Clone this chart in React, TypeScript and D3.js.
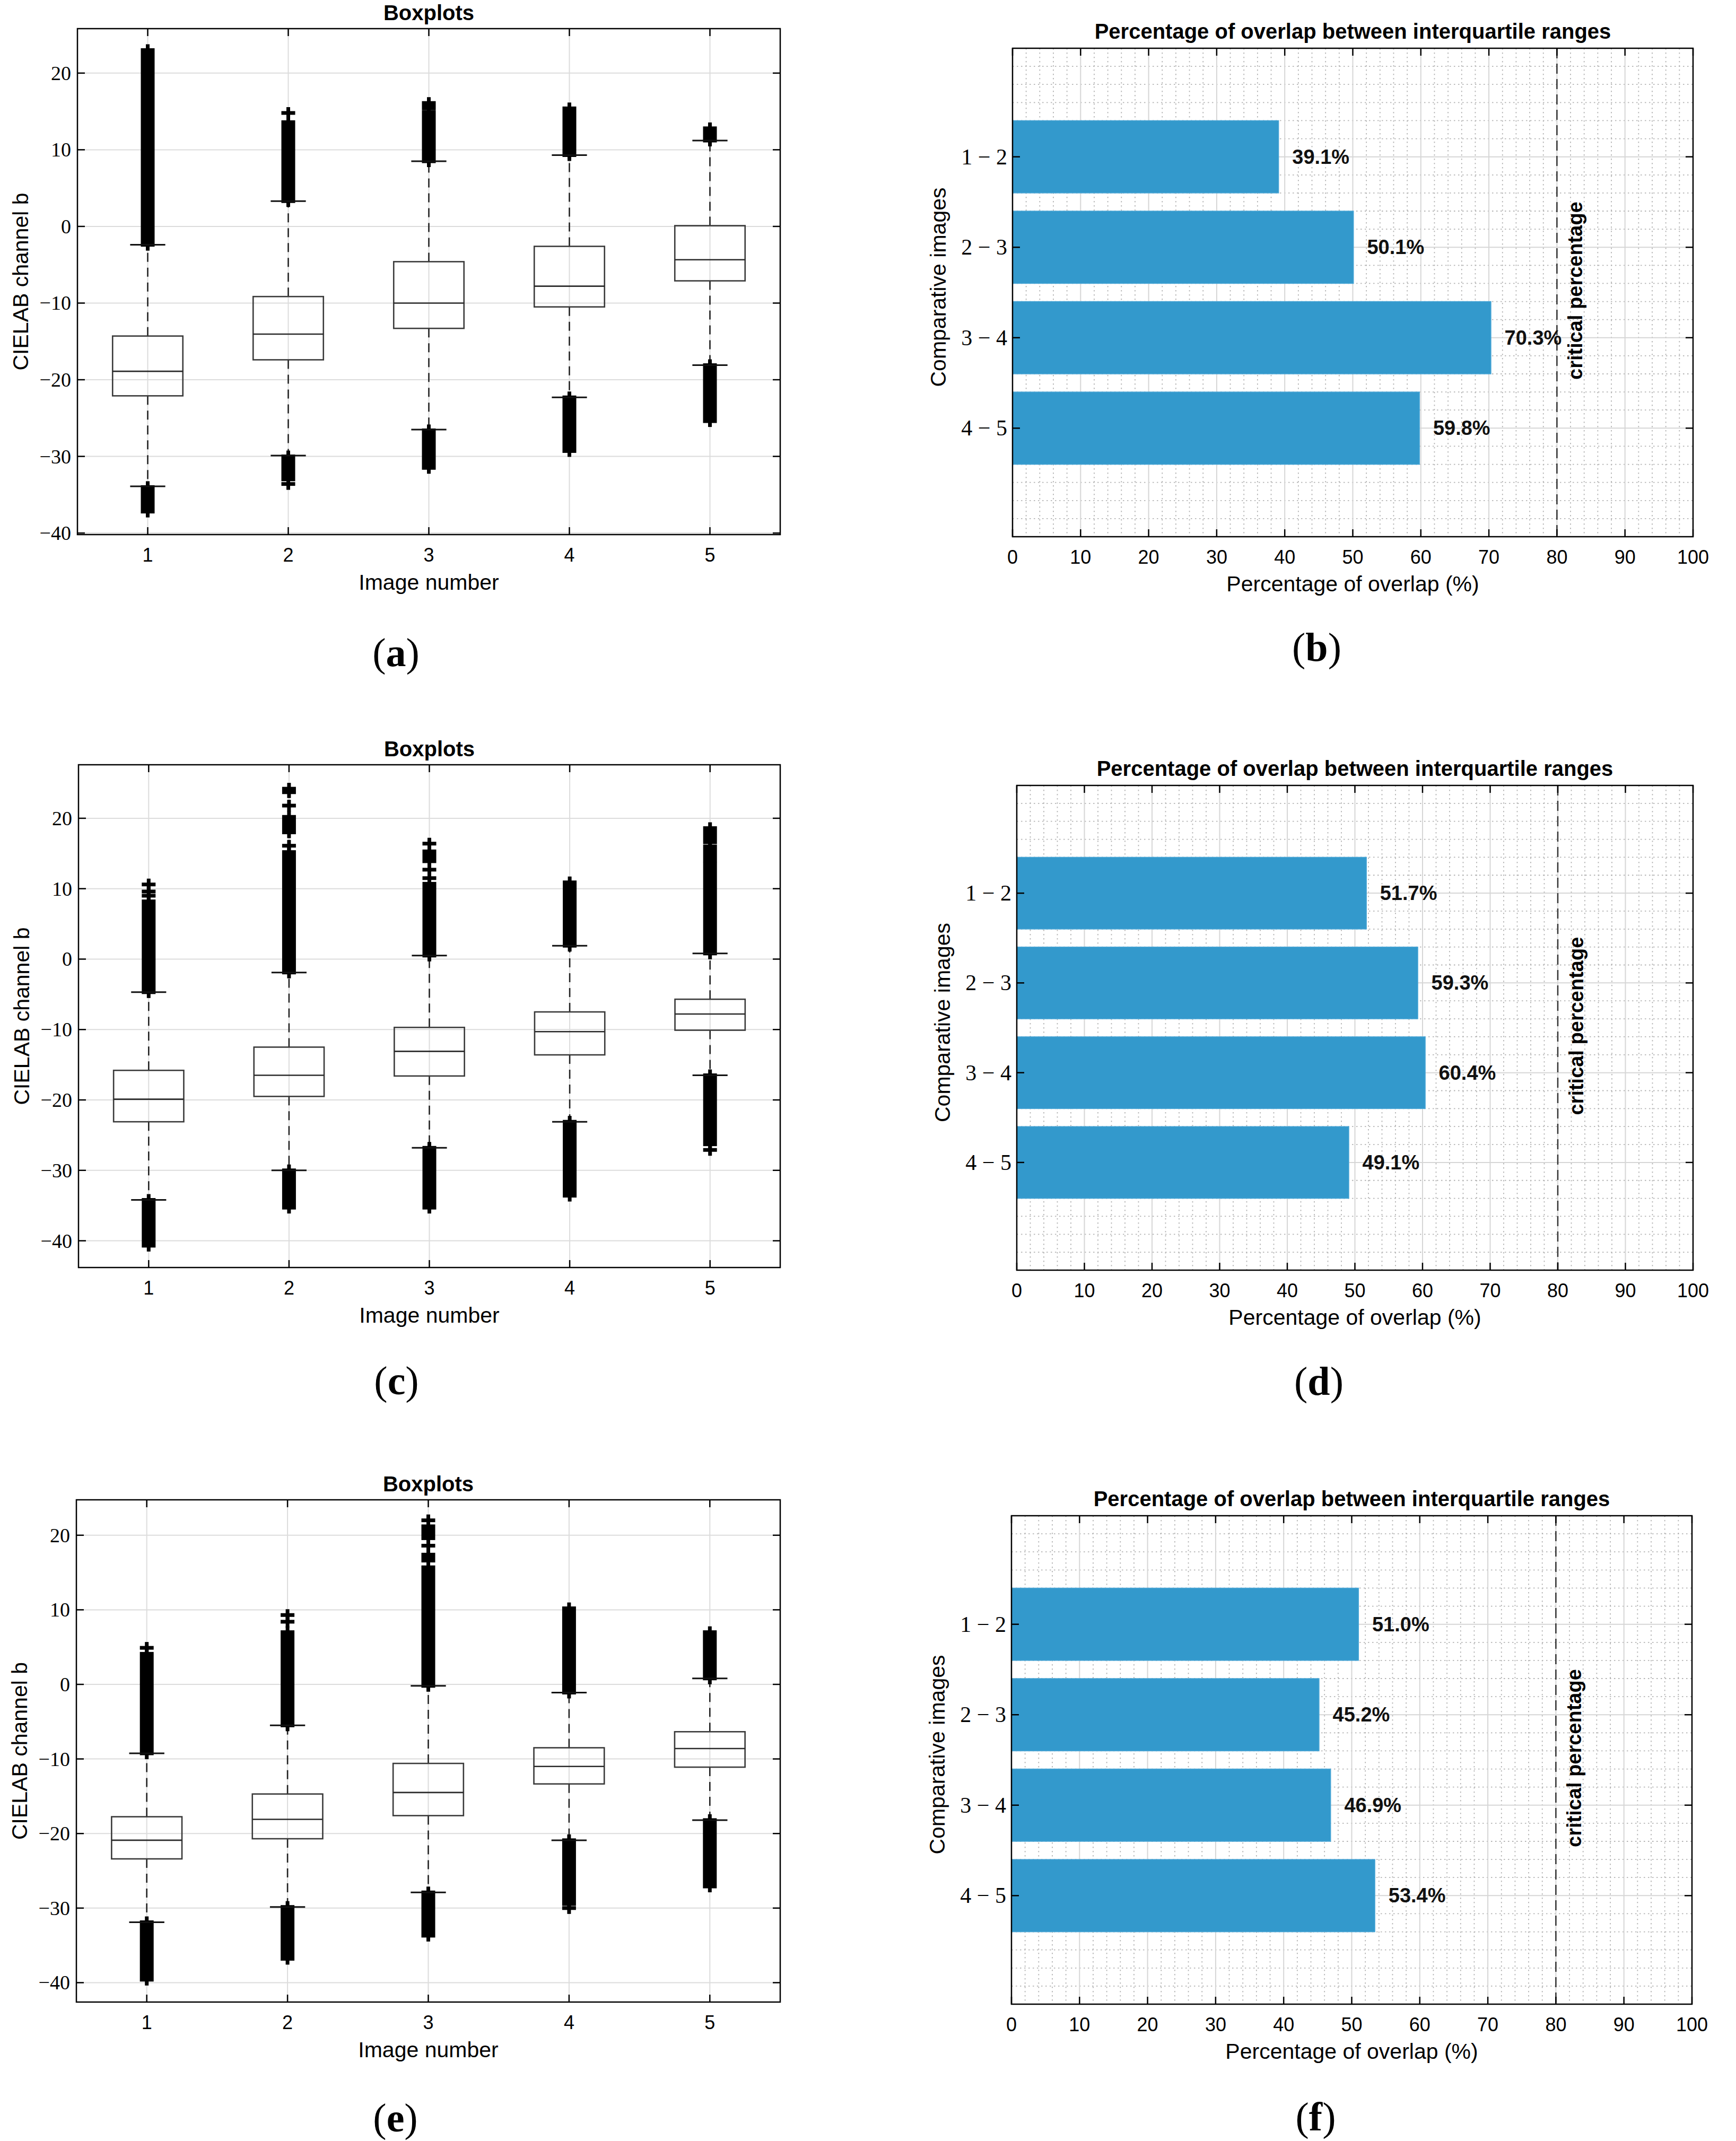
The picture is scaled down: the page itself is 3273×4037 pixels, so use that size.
import React from 'react';
import * as d3 from 'd3';

const W = 3273;
const H = 4037;
const sans = '"Liberation Sans", Arial, Helvetica, sans-serif';
const serif = '"Liberation Serif", "Times New Roman", serif';

type Run = [number, number];

const imageNumbers = [1, 2, 3, 4, 5];
const boxYTicks = [-40, -30, -20, -10, 0, 10, 20];

// panel (a)
const aWhiskerLow = [-33.9, -29.9, -26.5, -22.3, -18.1];
const aQ1 = [-22.1, -17.4, -13.3, -10.5, -7.1];
const aMedian = [-18.9, -14.05, -10.0, -7.8, -4.35];
const aQ3 = [-14.3, -9.15, -4.6, -2.6, 0.1];
const aWhiskerHigh = [-2.4, 3.3, 8.5, 9.3, 11.2];
const aOutliers: Run[][] = [
  [[-2.4, 23.0], [-34.0, -37.2]],
  [[3.3, 13.6], [14.8, 14.8], [-30.0, -33.0], [-33.6, -33.6]],
  [[8.5, 14.9], [15.4, 16.1], [-26.6, -31.5]],
  [[9.3, 15.4], [-22.3, -29.3]],
  [[11.2, 12.8], [-18.1, -25.4]],
];

// panel (c)
const cWhiskerLow = [-34.2, -30.0, -26.8, -23.1, -16.5];
const cQ1 = [-23.1, -19.5, -16.6, -13.6, -10.1];
const cMedian = [-19.9, -16.5, -13.1, -10.3, -7.8];
const cQ3 = [-15.8, -12.5, -9.7, -7.5, -5.7];
const cWhiskerHigh = [-4.7, -1.9, 0.5, 1.9, 0.8];
const cOutliers: Run[][] = [
  [[-4.7, 8.2], [9.0, 9.0], [9.6, 9.6], [10.6, 10.6], [-34.2, -40.7]],
  [[-1.9, 15.2], [16.1, 16.1], [18.0, 20.2], [21.8, 21.8], [23.7, 24.2], [-30.0, -35.3]],
  [[0.5, 10.7], [11.5, 11.5], [12.7, 12.7], [13.9, 15.3], [16.4, 16.4], [-26.8, -35.3]],
  [[1.9, 10.9], [-23.1, -33.6]],
  [[0.8, 13.5], [14.0, 16.0], [16.6, 18.6], [-16.5, -26.3], [-27.1, -27.1]],
];

// panel (e)
const eWhiskerLow = [-31.9, -29.85, -27.9, -20.9, -18.2];
const eQ1 = [-23.4, -20.7, -17.6, -13.35, -11.1];
const eMedian = [-20.9, -18.1, -14.5, -11.0, -8.6];
const eQ3 = [-17.75, -14.7, -10.6, -8.5, -6.35];
const eWhiskerHigh = [-9.25, -5.5, -0.2, -1.1, 0.8];
const eOutliers: Run[][] = [
  [[-9.25, 4.1], [4.9, 4.9], [-31.9, -39.6]],
  [[-5.5, 7.0], [8.4, 8.4], [9.3, 9.3], [-29.85, -36.8]],
  [[-0.2, 15.7], [16.6, 17.4], [18.6, 18.6], [19.6, 21.2], [22.0, 22.0], [-27.9, -33.7]],
  [[-1.1, 10.2], [-20.9, -29.45], [-30.0, -30.0]],
  [[0.8, 7.0], [-18.2, -27.1]],
];

// bar panels
const comparisons = ['1 − 2', '2 − 3', '3 − 4', '4 − 5'];
const overlapB = [39.1, 50.1, 70.3, 59.8];
const overlapD = [51.7, 59.3, 60.4, 49.1];
const overlapF = [51.0, 45.2, 46.9, 53.4];
const criticalPercentage = 80;
const overlapTicks = [0, 10, 20, 30, 40, 50, 60, 70, 80, 90, 100];

type Frame = { left: number; right: number; top: number; bottom: number };

const fmtMinus = (v: number) => (v < 0 ? `−${-v}` : `${v}`);

// panel letter like "(a)": regular parens, bold letter
function Tag({ x, y, letter }: { x: number; y: number; letter: string }) {
  return (
    <text x={x} y={y} fontFamily={serif} fontSize={76} textAnchor="middle" dominantBaseline="central">
      (<tspan fontWeight="bold">{letter}</tspan>)
    </text>
  );
}

function Outliers({ cx, y, runs }: { cx: number; y: d3.ScaleLinear<number, number>; runs: Run[] }) {
  const hw = 13, t = 7, tip = 11;
  return (
    <g fill="#000">
      {runs.map((r, i) => {
        const a = y(Math.max(r[0], r[1]));
        const b = y(Math.min(r[0], r[1]));
        return (
          <g key={i}>
            <rect x={cx - hw} y={a - t / 2} width={hw * 2} height={b - a + t} />
            <rect x={cx - t / 2} y={a - tip} width={t} height={b - a + tip * 2} />
          </g>
        );
      })}
    </g>
  );
}

function BoxplotPanel({ frame, domain, whiskerLow, q1, median, q3, whiskerHigh, outliers, tag, tagY }: any) {
  const { left, right, top, bottom } = frame as Frame;
  const x = d3.scaleLinear().domain([0.5, 5.5]).range([left, right]);
  const y = d3.scaleLinear().domain(domain).range([bottom, top]);
  const tk = 14;
  const bw = x(0.25) - x(0);
  const cw = x(0.125) - x(0);
  const cx = (left + right) / 2;
  const cy = (top + bottom) / 2;
  return (
    <g>
      {/* grid */}
      <g stroke="#dcdcdc" strokeWidth={2}>
        {boxYTicks.map(v => <line key={'gy' + v} x1={left} x2={right} y1={y(v)} y2={y(v)} />)}
        {imageNumbers.map(v => <line key={'gx' + v} x1={x(v)} x2={x(v)} y1={top} y2={bottom} />)}
      </g>
      {imageNumbers.map((n, i) => (
        <g key={n}>
          <g stroke="#222" strokeWidth={2.6} strokeDasharray="17,11">
            <line x1={x(n)} x2={x(n)} y1={y(q3[i])} y2={y(whiskerHigh[i])} />
            <line x1={x(n)} x2={x(n)} y1={y(q1[i])} y2={y(whiskerLow[i])} />
          </g>
          <Outliers cx={x(n)} y={y} runs={outliers[i]} />
          <rect x={x(n) - bw} y={y(q3[i])} width={bw * 2} height={y(q1[i]) - y(q3[i])}
            fill="none" stroke="#3a3a3a" strokeWidth={2.6} />
          <line x1={x(n) - bw} x2={x(n) + bw} y1={y(median[i])} y2={y(median[i])} stroke="#2a2a2a" strokeWidth={2.6} />
          <g stroke="#111" strokeWidth={3}>
            <line x1={x(n) - cw} x2={x(n) + cw} y1={y(whiskerHigh[i])} y2={y(whiskerHigh[i])} />
            <line x1={x(n) - cw} x2={x(n) + cw} y1={y(whiskerLow[i])} y2={y(whiskerLow[i])} />
          </g>
        </g>
      ))}
      {/* axes box and ticks */}
      <rect x={left} y={top} width={right - left} height={bottom - top} fill="none" stroke="#000" strokeWidth={2.5} />
      <g stroke="#000" strokeWidth={2.5}>
        {boxYTicks.map(v => (
          <g key={'t' + v}>
            <line x1={left} x2={left + tk} y1={y(v)} y2={y(v)} />
            <line x1={right} x2={right - tk} y1={y(v)} y2={y(v)} />
          </g>
        ))}
        {imageNumbers.map(v => (
          <g key={'tx' + v}>
            <line x1={x(v)} x2={x(v)} y1={bottom} y2={bottom - tk} />
            <line x1={x(v)} x2={x(v)} y1={top} y2={top + tk} />
          </g>
        ))}
      </g>
      <g fontFamily={serif} fontSize={38} textAnchor="end" fill="#000">
        {boxYTicks.map(v => (
          <text key={'l' + v} x={left - 12} y={y(v)} dominantBaseline="central">{fmtMinus(v)}</text>
        ))}
      </g>
      <g fontFamily={sans} fontSize={36} textAnchor="middle" fill="#000">
        {imageNumbers.map(v => <text key={'xl' + v} x={x(v)} y={bottom + 51}>{v}</text>)}
      </g>
      <text x={cx} y={bottom + 104} fontFamily={sans} fontSize={41} textAnchor="middle">Image number</text>
      <text transform={`translate(${left - 93},${cy}) rotate(-90)`} fontFamily={sans} fontSize={41} textAnchor="middle">
        CIELAB channel b
      </text>
      <text x={cx} y={top - 16} fontFamily={sans} fontSize={40} fontWeight="bold" textAnchor="middle">Boxplots</text>
      <Tag x={cx - 62} y={tagY} letter={tag} />
    </g>
  );
}

function OverlapPanel({ frame, values, tag, tagY }: any) {
  const { left, right, top, bottom } = frame as Frame;
  const x = d3.scaleLinear().domain([0, 100]).range([left, right]);
  const y = d3.scaleLinear().domain([-0.2, 5.2]).range([top, bottom]);
  const tk = 14;
  const cats = comparisons.map((_, i) => i + 1);
  const minorX = d3.range(0, 101, 2).filter(v => v % 10 !== 0);
  const minorY = d3.range(0, 26).map(k => k / 5).filter(v => !cats.includes(v));
  const barH = y(0.8) - y(0);
  const cx = (left + right) / 2;
  const cy = (top + bottom) / 2;
  return (
    <g>
      <g stroke="#b4b4b4" strokeWidth={1.8} strokeDasharray="2.5,5.5">
        {minorX.map(v => <line key={'mx' + v} x1={x(v)} x2={x(v)} y1={top} y2={bottom} />)}
        {minorY.map(v => <line key={'my' + v} x1={left} x2={right} y1={y(v)} y2={y(v)} />)}
      </g>
      <g stroke="#d6d6d6" strokeWidth={2}>
        {overlapTicks.map(v => <line key={'gx' + v} x1={x(v)} x2={x(v)} y1={top} y2={bottom} />)}
        {cats.map(v => <line key={'gy' + v} x1={left} x2={right} y1={y(v)} y2={y(v)} />)}
      </g>
      {values.map((v: number, i: number) => (
        <rect key={'b' + i} x={x(0)} y={y(cats[i]) - barH / 2} width={x(v) - x(0)} height={barH}
          fill="#3399cc" stroke="#4aa6d6" strokeWidth={1.5} />
      ))}
      <line x1={x(criticalPercentage)} x2={x(criticalPercentage)} y1={top} y2={bottom}
        stroke="#333" strokeWidth={2.5} strokeDasharray="19,10" />
      <text transform={`translate(${x(criticalPercentage) + 35},${y(2.48)}) rotate(-90)`}
        fontFamily={sans} fontSize={38} fontWeight="bold" textAnchor="middle" dominantBaseline="central">
        critical percentage
      </text>
      <g fontFamily={sans} fontSize={38} fontWeight="bold" fill="#111">
        {values.map((v: number, i: number) => (
          <text key={'v' + i} x={x(v + 2)} y={y(cats[i])} dominantBaseline="central">{v.toFixed(1)}%</text>
        ))}
      </g>
      <rect x={left} y={top} width={right - left} height={bottom - top} fill="none" stroke="#000" strokeWidth={2.5} />
      <g stroke="#000" strokeWidth={2.5}>
        {overlapTicks.map(v => (
          <g key={'t' + v}>
            <line x1={x(v)} x2={x(v)} y1={bottom} y2={bottom - tk} />
            <line x1={x(v)} x2={x(v)} y1={top} y2={top + tk} />
          </g>
        ))}
        {cats.map(v => (
          <g key={'ty' + v}>
            <line x1={left} x2={left + tk} y1={y(v)} y2={y(v)} />
            <line x1={right} x2={right - tk} y1={y(v)} y2={y(v)} />
          </g>
        ))}
      </g>
      <g fontFamily={sans} fontSize={36} textAnchor="middle">
        {overlapTicks.map(v => <text key={'xl' + v} x={x(v)} y={bottom + 51}>{v}</text>)}
      </g>
      <g fontFamily={serif} fontSize={42} textAnchor="end">
        {comparisons.map((c, i) => (
          <text key={c} x={left - 10} y={y(cats[i])} dominantBaseline="central">{c}</text>
        ))}
      </g>
      <text x={cx} y={bottom + 103} fontFamily={sans} fontSize={41} textAnchor="middle">Percentage of overlap (%)</text>
      <text transform={`translate(${left - 126},${cy - 10}) rotate(-90)`} fontFamily={sans} fontSize={41} textAnchor="middle">
        Comparative images
      </text>
      <text x={cx} y={top - 18} fontFamily={sans} fontSize={40} fontWeight="bold" textAnchor="middle">
        Percentage of overlap between interquartile ranges
      </text>
      <Tag x={cx - 68} y={tagY} letter={tag} />
    </g>
  );
}

export default function App() {
  return (
    <svg width={W} height={H} style={{ position: 'absolute', left: 0, top: 0, background: '#fff' }}>
      <rect width={W} height={H} fill="#fff" />
      <BoxplotPanel frame={{ left: 146, right: 1471, top: 54, bottom: 1008 }} domain={[-40.2, 25.8]}
        whiskerLow={aWhiskerLow} q1={aQ1} median={aMedian} q3={aQ3} whiskerHigh={aWhiskerHigh}
        outliers={aOutliers} tag="a" tagY={1230} />
      <OverlapPanel frame={{ left: 1909, right: 3192, top: 91, bottom: 1012 }} values={overlapB} tag="b" tagY={1220} />
      <BoxplotPanel frame={{ left: 148, right: 1471, top: 1442, bottom: 2390 }} domain={[-43.8, 27.6]}
        whiskerLow={cWhiskerLow} q1={cQ1} median={cMedian} q3={cQ3} whiskerHigh={cWhiskerHigh}
        outliers={cOutliers} tag="c" tagY={2603} />
      <OverlapPanel frame={{ left: 1917, right: 3192, top: 1481, bottom: 2395 }} values={overlapD} tag="d" tagY={2604} />
      <BoxplotPanel frame={{ left: 144, right: 1471, top: 2828, bottom: 3775 }} domain={[-42.6, 24.75]}
        whiskerLow={eWhiskerLow} q1={eQ1} median={eMedian} q3={eQ3} whiskerHigh={eWhiskerHigh}
        outliers={eOutliers} tag="e" tagY={3993} />
      <OverlapPanel frame={{ left: 1907, right: 3190, top: 2858, bottom: 3779 }} values={overlapF} tag="f" tagY={3991} />
    </svg>
  );
}
